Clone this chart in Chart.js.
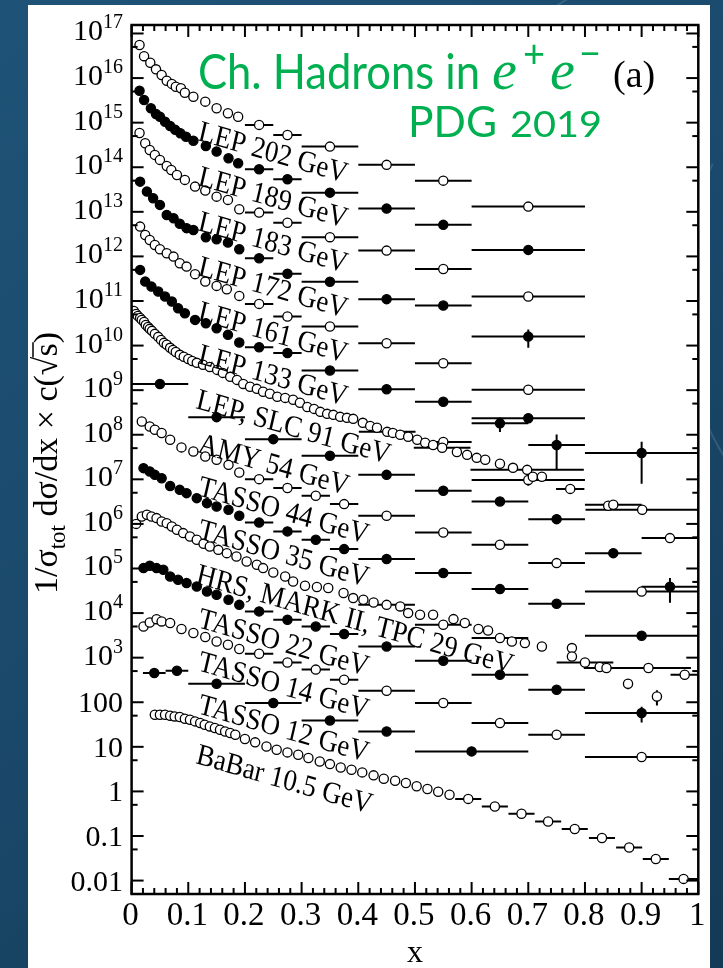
<!DOCTYPE html>
<html>
<head>
<meta charset="utf-8">
<title>Charged hadrons in e+e- : fragmentation functions</title>
<script src="https://cdn.jsdelivr.net/npm/chart.js@4.4.1/dist/chart.umd.min.js"></script>
<style>
  html, body { margin: 0; padding: 0; background: #1b4a6b; }
  #wrap { width: 723px; height: 968px; }
  canvas { display: block; }
</style>
</head>
<body>
<div id="wrap"><canvas id="myChart" width="723" height="968"></canvas></div>
<script>
// ---- data: x, 1/sigma dsigma/dx (unscaled), bin half-widths, y errors ----
// each curve is plotted multiplied by c = 10^exp

const lep202X  = [0.014,0.022,0.033,0.043,0.053,0.062,0.071,0.078,0.087,0.094,0.109,0.130,0.150,0.170,0.188,0.225,0.275,0.35,0.45,0.55,0.70];
const lep202Y  = [550,310,220,157,117,87,74,64,59,47,38,29.6,21,16.3,13.6,8.9,5.3,2.9,1.13,0.50,0.131];
const lep202Dx = [0,0,0,0,0,0,0,0,0,0,0,0,0,0,0,0.025,0.025,0.05,0.05,0.05,0.1];

const lep189X  = [0.014,0.022,0.034,0.043,0.050,0.059,0.068,0.077,0.086,0.096,0.109,0.131,0.150,0.171,0.188,0.225,0.275,0.35,0.45,0.55,0.70];
const lep189Y  = [521,323,210,157,136,105,84,69,58,48.5,39.4,30,22.4,15.9,12.3,9.0,5.4,2.69,1.18,0.51,0.140];
const lep189Dx = [0,0,0,0,0,0,0,0,0,0,0,0,0,0,0,0.025,0.025,0.05,0.05,0.05,0.1];

const lep183X  = [0.014,0.024,0.032,0.041,0.050,0.062,0.070,0.080,0.094,0.112,0.130,0.150,0.170,0.190,0.225,0.275,0.35,0.45,0.55,0.70];
const lep183Y  = [588,345,244,189,146,107,87,67,52,36.8,29.9,21.9,18.5,11.4,9.6,5.7,2.7,1.35,0.52,0.126];
const lep183Dx = [0,0,0,0,0,0,0,0,0,0,0,0,0,0,0.025,0.025,0.05,0.05,0.05,0.1];
const lep183Ey = [0,0,0,0,0,0,0,0,0,0,0,0,0,0,0,0,0,0,0,0.02];

const lep172X  = [0.015,0.027,0.038,0.050,0.062,0.074,0.085,0.097,0.109,0.131,0.150,0.170,0.190,0.225,0.275,0.35,0.45,0.55,0.70];
const lep172Y  = [475,284,202,143,85,72,54,43,39,27,24.3,20.4,14.5,9.1,4.1,2.7,1.10,0.79,0.159];
const lep172Dx = [0,0,0,0,0,0,0,0,0,0,0,0,0,0.025,0.025,0.05,0.05,0.05,0.1];
const lep172Ey = [0,0,0,0,0,0,0,0,0,0,0,0,0,0,0,0,0.1,0.1,0.07];

const lep161X  = [0.015,0.024,0.032,0.041,0.050,0.062,0.074,0.085,0.097,0.112,0.130,0.150,0.168,0.190,0.225,0.275,0.35,0.45,0.55,0.70];
const lep161Y  = [466,303,234,181,145,118,99,70,59,40,27.2,21.8,18.4,13.0,8.6,4.5,2.67,1.13,0.40,0.102];
const lep161Dx = [0,0,0,0,0,0,0,0,0,0,0,0,0,0,0.025,0.025,0.05,0.05,0.05,0.1];
const lep161Ey = [0,0,0,0,0,0,0,0,0,0,0,0,0,0,0,0,0,0,0,0.02];

const lep133X  = [0.015,0.024,0.035,0.047,0.059,0.071,0.082,0.094,0.112,0.131,0.150,0.170,0.190,0.225,0.275,0.35,0.45,0.55,0.65,0.70,0.75,0.90];
const lep133Y  = [498,272,210,163,126,97,69,53,37.7,31.8,24.5,17.4,11.7,9.2,6.8,2.75,1.05,0.55,0.18,0.235,0.059,0.039];
const lep133Dx = [0,0,0,0,0,0,0,0,0,0,0,0,0,0.025,0.025,0.05,0.05,0.05,0.05,0.1,0.05,0.1];
const lep133Ey = [0,0,0,0,0,0,0,0,0,0,0,0,0,0,0,0,0,0,0.065,0,0.042,0.031];

const lep91X  = [0.004,0.008,0.011,0.015,0.018,0.022,0.025,0.029,0.032,0.036,0.041,0.047,0.052,0.057,0.062,0.068,0.073,0.078,0.085,0.092,
                 0.100,0.107,0.115,0.126,0.138,0.151,0.161,0.174,0.186,0.197,0.209,0.221,0.232,0.244,0.257,0.271,0.285,0.297,0.310,0.322,
                 0.333,0.345,0.356,0.368,0.380,0.391,0.408,0.421,0.433,0.451,0.461,0.474,0.488,0.504,0.518,0.532,0.550,0.548,0.574,0.592,
                 0.609,0.624,0.650,0.673,0.698,0.700,0.708,0.724,0.774,0.841,0.850,0.901,0.950];
const lep91Y  = [600,514,463,418,377,340,291,262,237,214,183,157,134,115,104,89,80,72,62,56,
                 50,45,41,37,33,28.5,24.4,19.9,17.0,13.8,11.9,10.7,9.2,8.3,7.1,6.7,6.1,5.2,4.2,3.8,
                 3.26,2.94,2.79,2.52,2.39,2.27,1.85,1.58,1.43,1.16,1.10,1.00,0.90,0.77,0.66,0.59,0.69,0.51,0.41,0.354,
                 0.303,0.274,0.223,0.181,0.163,0.097,0.114,0.114,0.061,0.0255,0.0268,0.0207,0.0048];
const lep91Dx = [0,0,0,0,0,0,0,0,0,0,0,0,0,0,0,0,0,0,0,0,
                 0,0,0,0,0,0,0,0,0,0,0,0,0,0,0,0,0,0,0,0,
                 0,0,0,0,0,0,0,0,0,0.05,0,0,0,0,0,0,0.05,0.05,0,0,
                 0,0,0,0,0.1,0.1,0,0,0.025,0,0.05,0.1,0.05];
const lep91Ey = [0,0,0,0,0,0,0,0,0,0,0,0,0,0,0,0,0,0,0,0,
                 0,0,0,0,0,0,0,0,0,0,0,0,0,0,0,0,0,0,0,0,
                 0,0,0,0,0,0,0,0,0,0,0,0,0,0,0,0,0,0,0,0,
                 0,0,0,0,0,0.025,0,0,0,0,0,0,0];

const amy54X  = [0.05,0.15,0.25,0.35,0.45,0.55,0.65,0.75,0.85,0.95];
const amy54Y  = [138,24.8,7.96,3.37,1.26,0.552,0.318,0.128,0.0221,0.0039];
const amy54Dx = [0.05,0.05,0.05,0.05,0.05,0.05,0.05,0.05,0.05,0.05];
const amy54Ey = [0,0,0,0,0,0,0,0,0.003,0.0022];

const tasso44X  = [0.018,0.032,0.041,0.053,0.068,0.088,0.109,0.130,0.150,0.171,0.190,0.225,0.275,0.325,0.375,0.45,0.55,0.65,0.75,0.90];
const tasso44Y  = [198,153,129,109,77,52,42,32.4,27.4,21.1,14.2,10.1,6.4,4.27,2.78,1.52,0.64,0.340,0.132,0.0305];
const tasso44Dx = [0,0,0,0,0,0,0,0,0,0,0,0.025,0.025,0.025,0.025,0.05,0.05,0.05,0.05,0.1];

const tasso35X  = [0.021,0.032,0.041,0.053,0.068,0.085,0.097,0.115,0.133,0.150,0.171,0.190,0.225,0.275,0.325,0.375,0.45,0.55,0.65,0.75,0.90];
const tasso35Y  = [178,150,126,106,71,58,49,37.8,29.2,24.5,20.7,15.2,10.7,6.8,4.40,2.72,1.63,0.79,0.345,0.162,0.031];
const tasso35Dx = [0,0,0,0,0,0,0,0,0,0,0,0,0.025,0.025,0.025,0.025,0.05,0.05,0.05,0.05,0.1];
const tasso35Ey = [0,0,0,0,0,0,0,0,0,0,0,0,0,0,0,0,0,0,0,0,0.005];

const hrs29X  = [0.008,0.018,0.027,0.035,0.044,0.053,0.062,0.071,0.080,0.091,0.103,0.115,0.127,0.138,0.153,0.168,0.185,0.203,0.221,0.232,
                 0.250,0.271,0.285,0.306,0.327,0.347,0.374,0.391,0.409,0.427,0.450,0.474,0.488,0.509,0.532,0.550,0.568,0.588,0.612,0.629,
                 0.650,0.671,0.694,0.724,0.777,0.777,0.800,0.826,0.838,0.876,0.912,0.927,0.976];
const hrs29Y  = [100,147,160,147,135,113,104,87.5,73.8,62.2,52.1,44.0,35.8,31.1,26.2,22.1,18.6,14.4,12.1,10.2,
                 8.1,6.6,5.1,4.09,3.83,3.64,2.81,2.17,1.99,1.73,1.53,1.41,1.00,0.92,0.92,0.547,0.733,0.597,0.438,0.407,
                 0.275,0.231,0.212,0.178,0.164,0.106,0.078,0.0615,0.0585,0.026,0.0585,0.0135,0.0414];
const hrs29Dx = [0,0,0,0,0,0,0,0,0,0,0,0,0,0,0,0,0,0,0,0,
                 0,0,0,0,0,0,0,0,0,0,0.05,0,0,0,0,0.05,0,0,0,0,
                 0.05,0,0,0,0,0,0.05,0,0.04,0,0.075,0,0.025];
const hrs29Ey = [0,0,0,0,0,0,0,0,0,0,0,0,0,0,0,0,0,0,0,0,
                 0,0,0,0,0,0,0,0,0,0,0,0,0,0,0,0,0,0,0,0,
                 0,0,0,0,0,0,0,0,0,0.0065,0,0.005,0];

const tasso22X  = [0.021,0.032,0.044,0.056,0.068,0.082,0.097,0.115,0.133,0.150,0.171,0.190,0.225,0.275,0.325,0.375,0.45,0.55,0.65,0.75,0.90];
const tasso22Y  = [102,115,102,93.5,66,55.8,47.1,39.4,30.5,25.7,19.9,15.3,10.9,7.1,5.0,3.38,1.78,0.85,0.414,0.19,0.0573];
const tasso22Dx = [0,0,0,0,0,0,0,0,0,0,0,0,0.025,0.025,0.025,0.025,0.05,0.05,0.05,0.05,0.1];
const tasso22Ey = [0,0,0,0,0,0,0,0,0,0,0,0,0,0,0,0,0,0,0,0,0.022];

const tasso14X  = [0.021,0.032,0.044,0.053,0.068,0.088,0.109,0.130,0.150,0.170,0.190,0.225,0.275,0.325,0.375,0.45,0.55,0.65,0.75,0.90];
const tasso14Y  = [50,61.5,73,65,59.7,43.8,35.6,29.0,23.1,19.5,15.6,12.2,7.8,5.4,3.19,1.81,0.96,0.342,0.187,0.059];
const tasso14Dx = [0,0,0,0,0,0,0,0,0,0,0,0.025,0.025,0.025,0.025,0.05,0.05,0.05,0.05,0.1];
const tasso14Ey = [0,0,0,0,0,0,0,0,0,0,0,0,0,0,0,0,0,0,0,0.01];

const tasso12X  = [0.04,0.08,0.15,0.25,0.35,0.45,0.60];
const tasso12Y  = [45.2,50.8,26,9.6,3.9,2.21,0.79];
const tasso12Dx = [0.02,0.02,0.05,0.05,0.05,0.05,0.1];

const babarX  = [0.041,0.050,0.059,0.068,0.076,0.085,0.094,0.103,0.112,0.121,0.129,0.138,0.147,0.156,0.165,0.174,0.183,
                 0.200,0.218,0.238,0.256,0.275,0.294,0.312,0.332,0.350,0.369,0.388,0.407,0.427,0.445,0.465,0.484,0.503,0.522,0.541,0.561,
                 0.594,0.641,0.688,0.735,0.782,0.830,0.878,0.925,0.974];
const babarY  = [52.5,52.5,52.5,49.8,48.1,46.6,42.7,40.5,37.2,34.2,31.3,28.7,26.4,24.2,22.1,20.4,18.7,
                 15.0,12.6,10.2,8.6,7.5,6.65,5.6,4.7,4.1,3.45,3.07,2.67,2.29,1.93,1.74,1.54,1.31,1.13,0.98,0.84,
                 0.68,0.46,0.316,0.212,0.144,0.090,0.055,0.0305,0.0109];
const babarDx = [0,0,0,0,0,0,0,0,0,0,0,0,0,0,0,0,0,
                 0,0,0,0,0,0,0,0,0,0,0,0,0,0,0,0,0,0,0,0,
                 0.023,0.023,0.023,0.023,0.023,0.023,0.023,0.023,0.026];

// curve names, open/filled marker, and exponent of the scale factor c(sqrt s)
const curveNames = ['LEP 202 GeV','LEP 189 GeV','LEP 183 GeV','LEP 172 GeV','LEP 161 GeV','LEP 133 GeV','LEP, SLC 91 GeV',
                    'AMY 54 GeV','TASSO 44 GeV','TASSO 35 GeV','HRS, MARK II, TPC 29 GeV','TASSO 22 GeV','TASSO 14 GeV',
                    'TASSO 12 GeV','BaBar 10.5 GeV'];
const curveOpen  = [true,false,true,false,true,false,true,false,true,false,true,false,true,false,true];
const scaleExp   = [14,13,12,11,10,9,8,7,6,5,4,3,2,1,0];

const xTickValues = [0,0.1,0.2,0.3,0.4,0.5,0.6,0.7,0.8,0.9,1];
const xTickLabels = ['0','0.1','0.2','0.3','0.4','0.5','0.6','0.7','0.8','0.9','1'];
const yTickValues = [1e17,1e16,1e15,1e14,1e13,1e12,1e11,1e10,1e9,1e8,1e7,1e6,1e5,1e4,1e3,100,10,1,0.1,0.01];
const yTickLabels = ['10^17','10^16','10^15','10^14','10^13','10^12','10^11','10^10','10^9','10^8','10^7','10^6','10^5',
                     '10^4','10^3','100','10','1','0.1','0.01'];

const X_MIN = 0, X_MAX = 1, Y_MIN = 0.005, Y_MAX = 1.55e17;

const curves = [
  [lep202X, lep202Y, lep202Dx, null],
  [lep189X, lep189Y, lep189Dx, null],
  [lep183X, lep183Y, lep183Dx, lep183Ey],
  [lep172X, lep172Y, lep172Dx, lep172Ey],
  [lep161X, lep161Y, lep161Dx, lep161Ey],
  [lep133X, lep133Y, lep133Dx, lep133Ey],
  [lep91X, lep91Y, lep91Dx, lep91Ey],
  [amy54X, amy54Y, amy54Dx, amy54Ey],
  [tasso44X, tasso44Y, tasso44Dx, null],
  [tasso35X, tasso35Y, tasso35Dx, tasso35Ey],
  [hrs29X, hrs29Y, hrs29Dx, hrs29Ey],
  [tasso22X, tasso22Y, tasso22Dx, tasso22Ey],
  [tasso14X, tasso14Y, tasso14Dx, tasso14Ey],
  [tasso12X, tasso12Y, tasso12Dx, null],
  [babarX, babarY, babarDx, null]
];

const datasets = curves.map((c, k) => {
  const f = Math.pow(10, scaleExp[k]);
  const [xs, ys, dxs, eys] = c;
  return {
    label: curveNames[k],
    data: xs.map((x, i) => ({ x: x, y: ys[i] * f, dx: dxs ? dxs[i] : 0, ey: eys ? eys[i] * f : 0 })),
    showLine: false,
    pointStyle: 'circle',
    pointRadius: 4.6,
    pointBorderWidth: 1.3,
    pointBackgroundColor: curveOpen[k] ? '#ffffff' : '#000000',
    pointBorderColor: '#000000'
  };
});

const serif = '"Liberation Serif", "Times New Roman", serif';
const sans = 'Lato, "Open Sans", sans-serif';

// slide background + white panel
const background = {
  id: 'background',
  beforeDraw(chart) {
    const { ctx, width, height } = chart;
    ctx.save();
    const g = ctx.createLinearGradient(0, 0, width, height);
    g.addColorStop(0, '#1e5377');
    g.addColorStop(0.5, '#1a486a');
    g.addColorStop(1, '#143a55');
    ctx.fillStyle = g;
    ctx.fillRect(0, 0, width, height);
    ctx.strokeStyle = 'rgba(255,255,255,0.12)';
    ctx.lineWidth = 2;
    ctx.beginPath(); ctx.arc(980, 300, 300, Math.PI * 0.75, Math.PI * 1.15); ctx.stroke();
    ctx.beginPath(); ctx.arc(400, -250, 300, Math.PI * 0.2, Math.PI * 0.6); ctx.stroke();
    ctx.fillStyle = '#ffffff';
    ctx.fillRect(28, 5, 682, height - 5);
    ctx.restore();
  }
};

// horizontal bin widths and vertical error bars
const errorBars = {
  id: 'errorBars',
  beforeDatasetsDraw(chart) {
    const { ctx, chartArea: a, scales: { x: xs, y: ys } } = chart;
    ctx.save();
    ctx.beginPath();
    ctx.rect(a.left, a.top, a.right - a.left, a.bottom - a.top);
    ctx.clip();
    ctx.strokeStyle = '#000';
    ctx.lineWidth = 2;
    chart.data.datasets.forEach(ds => {
      ds.data.forEach(p => {
        const px = xs.getPixelForValue(p.x);
        const py = ys.getPixelForValue(p.y);
        if (p.dx) {
          ctx.beginPath();
          ctx.moveTo(xs.getPixelForValue(p.x - p.dx), py);
          ctx.lineTo(xs.getPixelForValue(p.x + p.dx), py);
          ctx.stroke();
        }
        if (p.ey) {
          ctx.beginPath();
          ctx.moveTo(px, ys.getPixelForValue(Math.max(p.y - p.ey, Y_MIN)));
          ctx.lineTo(px, ys.getPixelForValue(p.y + p.ey));
          ctx.stroke();
        }
      });
    });
    ctx.restore();
  }
};

function fitText(ctx, text, x, y, width) {
  const w = ctx.measureText(text).width;
  ctx.save();
  ctx.translate(x, y);
  ctx.scale(width / w, 1);
  ctx.fillText(text, 0, 0);
  ctx.restore();
}

// frame, inward ticks, tick labels, titles and curve labels
const frame = {
  id: 'frame',
  afterDraw(chart) {
    const { ctx, chartArea: a, scales: { x: xs, y: ys } } = chart;
    const line = (x1, y1, x2, y2) => { ctx.beginPath(); ctx.moveTo(x1, y1); ctx.lineTo(x2, y2); ctx.stroke(); };
    ctx.save();
    ctx.strokeStyle = '#000';
    ctx.lineWidth = 2.5;
    ctx.strokeRect(a.left, a.top, a.right - a.left, a.bottom - a.top);

    ctx.lineWidth = 2;
    for (let k = 0; k <= 50; k++) {
      const px = xs.getPixelForValue(k / 50);
      const len = k % 5 === 0 ? 12 : 6;
      line(px, a.bottom, px, a.bottom - len);
      line(px, a.top, px, a.top + len);
    }
    for (let e = -3; e <= 17; e++) {
      [1, 5].forEach(m => {
        const v = m * Math.pow(10, e);
        if (v <= Y_MIN * 1.01 || v > Y_MAX) return;
        const py = ys.getPixelForValue(v);
        const len = m === 1 ? 12 : 6;
        line(a.left, py, a.left + len, py);
        line(a.right, py, a.right - len, py);
      });
    }

    ctx.fillStyle = '#000';
    ctx.textBaseline = 'alphabetic';
    ctx.font = '33px ' + serif;
    ctx.textAlign = 'center';
    xTickValues.forEach((v, i) => ctx.fillText(xTickLabels[i], xs.getPixelForValue(v) - 1, 925));

    const rightX = 123;
    yTickValues.forEach((v, i) => {
      const py = ys.getPixelForValue(v);
      const lab = yTickLabels[i];
      if (lab.indexOf('^') >= 0) {
        const [b, e] = lab.split('^');
        ctx.font = '20px ' + serif;
        const we = ctx.measureText(e).width;
        ctx.textAlign = 'left';
        ctx.fillText(e, rightX - we, py - 5);
        ctx.font = '30px ' + serif;
        const wb = ctx.measureText(b).width;
        ctx.fillText(b, rightX - we - wb, py + 7);
      } else {
        ctx.font = '30px ' + serif;
        ctx.textAlign = 'right';
        ctx.fillText(lab, rightX, py + 10);
      }
    });

    // axis titles
    ctx.textAlign = 'center';
    ctx.font = '32px ' + serif;
    ctx.fillText('x', (a.left + a.right) / 2, 962);

    ctx.save();
    ctx.translate(57, 463);
    ctx.rotate(-Math.PI / 2);
    ctx.textAlign = 'left';
    const big = '34px ' + serif, small = '23px ' + serif;
    const parts = [['1/σ', big, 0], ['tot', small, 8], [' dσ/dx × c(', big, 0], ['√', big, 0], ['s', big, 0], [')', big, 0]];
    let total = 0;
    parts.forEach(p => { ctx.font = p[1]; total += ctx.measureText(p[0]).width; });
    let xx = -total / 2;
    let sqrtEnd = 0, sEnd = 0;
    parts.forEach(p => {
      ctx.font = p[1];
      ctx.fillText(p[0], xx, p[2]);
      xx += ctx.measureText(p[0]).width;
      if (p[0] === '√') sqrtEnd = xx;
      if (p[0] === 's') sEnd = xx;
    });
    ctx.lineWidth = 1.5;
    line(sqrtEnd - 1, -24, sEnd + 1, -24);
    ctx.restore();

    // curve labels, slanted along the curves
    const labelPos = [[197,140],[197,185],[197,230],[197,275],[197,320],[197,363],[195,408],[197,452],
                      [197,495],[197,538],[195,583],[197,627],[197,670],[197,713],[195,763]];
    ctx.font = '27px ' + serif;
    ctx.textAlign = 'left';
    curveNames.forEach((name, i) => {
      ctx.save();
      ctx.translate(labelPos[i][0], labelPos[i][1]);
      ctx.scale(1, 1.12);
      ctx.rotate(14.5 * Math.PI / 180);
      ctx.fillText(name, 0, 0);
      ctx.restore();
    });

    // slide title
    ctx.fillStyle = '#00b050';
    ctx.font = '49px ' + sans;
    fitText(ctx, 'Ch. Hadrons in', 198, 89, 282);
    ctx.font = 'italic 56px ' + serif;
    ctx.fillText('e', 492, 89);
    ctx.fillText('e', 550, 89);
    ctx.font = '38px ' + sans;
    ctx.fillText('+', 523, 67);
    ctx.fillText('\u2212', 579, 67);
    ctx.font = '43px ' + sans;
    fitText(ctx, 'PDG', 408, 137, 89);
    ctx.font = '36px ' + sans;
    fitText(ctx, '2019', 510, 137, 92);
    ctx.fillStyle = '#000';
    ctx.font = '38px ' + serif;
    ctx.fillText('(a)', 613, 87);
    ctx.restore();
  }
};

new Chart(document.getElementById('myChart').getContext('2d'), {
  type: 'scatter',
  data: { datasets: datasets },
  options: {
    responsive: false,
    animation: false,
    devicePixelRatio: 1,
    events: [],
    layout: { padding: { left: 131.6, right: 24.7, top: 25, bottom: 74 } },
    plugins: { legend: { display: false }, tooltip: { enabled: false } },
    scales: {
      x: { type: 'linear', min: X_MIN, max: X_MAX, display: false },
      y: { type: 'logarithmic', min: Y_MIN, max: Y_MAX, display: false }
    }
  },
  plugins: [background, errorBars, frame]
});
</script>
</body>
</html>
